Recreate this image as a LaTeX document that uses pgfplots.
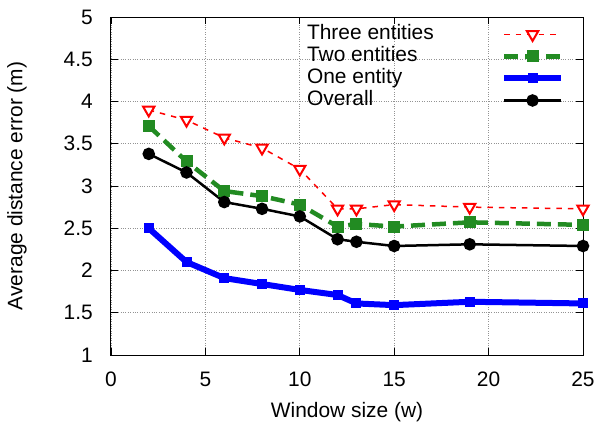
\documentclass[border=0pt]{standalone}
\usepackage{pgfplots}
\pgfplotsset{compat=1.18}
\usepackage{fontspec}
\setmainfont{Liberation Sans}
\definecolor{gred}{RGB}{255,0,0}
\definecolor{ggreen}{RGB}{34,139,34}
\definecolor{gblue}{RGB}{0,0,255}
\newcommand{\lbl}{\fontsize{21}{25}\selectfont}
\newcommand{\entry}[1]{\makebox[194bp][l]{#1}}
\begin{document}
\begin{tikzpicture}[x=1bp,y=1bp]
\begin{axis}[
  scale only axis,
  width=472bp, height=338bp,
  xmin=0, xmax=25, ymin=1, ymax=5,
  xtick={0,5,...,25},
  ytick={1,1.5,...,5},
  /pgf/number format/assume math mode=true,
  yticklabel style={/pgf/number format/fixed, anchor=east, inner sep=0pt, xshift=-18bp},
  xticklabel style={anchor=base, inner sep=0pt, yshift=-31.5bp},
  tick align=inside,
  major tick length=7bp,
  tick style={black, line width=0.7bp},
  grid=major,
  major grid style={gray!85, dotted, line width=0.8bp},
  axis line style={black, line width=1bp},
  xlabel={Window size (w)},
  ylabel={Average distance error (m)},
  xlabel style={at={(axis description cs:0.5,-0.186)}, anchor=base, inner sep=0pt},
  ylabel style={at={(axis description cs:-0.178,0.5)}, anchor=south, inner sep=0pt},
  ticklabel style={font=\lbl},
  label style={font=\lbl},
  legend style={draw=none, fill=none, at={(0.415,0.977)}, anchor=north west,
    font=\lbl, row sep=3bp, column sep=0bp, inner sep=0bp,
    nodes={inner sep=0pt, text height=15bp, text depth=4bp}},
  legend cell align=left,
  legend plot pos=right,
  legend image code/.code={
    \draw[#1, mark repeat=2, mark phase=2] plot coordinates {(0bp,0bp) (28.5bp,0bp) (57bp,0bp)};
  },
]
\addplot[gred, dash pattern=on 5.5bp off 6bp, line width=1.5bp,
  mark=triangle*, mark size=6.5bp, mark options={solid, rotate=180, fill=white, draw=gred, line width=2bp}]
  coordinates {(2,3.90) (4,3.78) (6,3.57) (8,3.45) (10,3.20) (12,2.73) (13,2.73) (15,2.78) (19,2.75) (25,2.73)};
\addlegendentry{\entry{Three entities}}
\addplot[ggreen, dash pattern=on 14bp off 7bp, line width=4.5bp,
  mark=square*, mark size=5.5bp, mark options={solid, fill=ggreen, draw=ggreen, line width=0bp}]
  coordinates {(2,3.71) (4,3.29) (6,2.94) (8,2.88) (10,2.78) (12,2.52) (13,2.55) (15,2.52) (19,2.57) (25,2.54)};
\addlegendentry{\entry{Two entities}}
\addplot[gblue, line width=6bp,
  mark=square*, mark size=4.5bp, mark options={solid, fill=gblue, draw=gblue, line width=0bp}]
  coordinates {(2,2.50) (4,2.10) (6,1.91) (8,1.84) (10,1.77) (12,1.71) (13,1.61) (15,1.59) (19,1.63) (25,1.61)};
\addlegendentry{\entry{One entity}}
\addplot[black, line width=2.5bp,
  mark=*, mark size=5bp, mark options={solid, fill=black}]
  coordinates {(2,3.38) (4,3.16) (6,2.81) (8,2.73) (10,2.64) (12,2.37) (13,2.34) (15,2.29) (19,2.31) (25,2.29)};
\addlegendentry{\entry{Overall}}
\end{axis}
\path (current axis.south west) ++(-111bp,-74bp) rectangle ++(600bp,429bp);
\end{tikzpicture}
\end{document}
